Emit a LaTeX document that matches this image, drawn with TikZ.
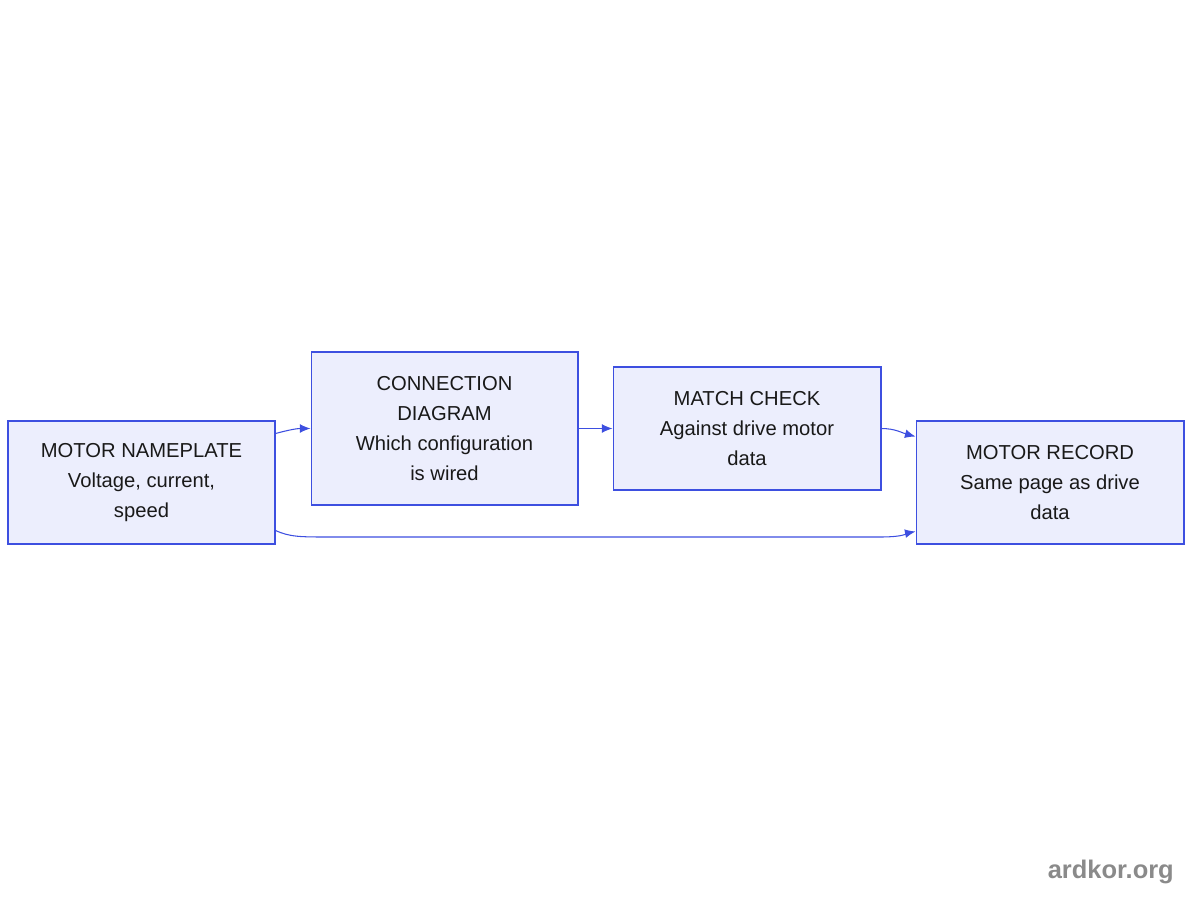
\documentclass[tikz,border=0pt]{standalone}
\usepackage{fontspec}
\setmainfont{Liberation Sans}
\usetikzlibrary{arrows.meta,positioning}
\definecolor{boxfill}{HTML}{ECEEFD}
\definecolor{boxline}{HTML}{3D4FE0}
\definecolor{markgray}{HTML}{8A8A8A}

\begin{document}
\begin{tikzpicture}[x=0.02cm,y=-0.02cm,%
    stage/.style={draw=boxline,fill=boxfill,line width=0.6pt,minimum width=5.34cm,%
      align=center,font=\fontsize{11.5}{17}\selectfont,text=black!90},%
    link/.style={draw=boxline,line width=0.6pt,-{Latex[length=6pt,width=5pt]}}%
  ]
  \useasboundingbox (0,0) rectangle (1200,900);%

  %
  % Stages
  %
  \node[stage,minimum height=2.46cm] (nameplate) at (141.5,482.5)
    {MOTOR NAMEPLATE\\Voltage, current,\\speed};%
  \node[stage,minimum height=3.06cm] (diagram) at (444.5,428.5)
    {CONNECTION\\DIAGRAM\\Which configuration\\is wired};%
  \node[stage,minimum height=2.46cm,minimum width=5.36cm] (check) at (747,428.5)
    {MATCH CHECK\\Against drive motor\\data};%
  \node[stage,minimum height=2.46cm,minimum width=5.36cm] (record) at (1050,482.5)
    {MOTOR RECORD\\Same page as drive\\data};%

  %
  % Links
  %
  \coordinate (nameplate top) at ([yshift=0.98cm]nameplate.east);%
  \coordinate (nameplate low) at ([yshift=-0.96cm]nameplate.east);%
  \coordinate (record top) at ([yshift=0.92cm]record.west);%
  \coordinate (record low) at ([yshift=-0.98cm]record.west);%
  \draw[link] (nameplate top) to[out=15,in=180] (diagram.west);%
  \draw[link] (diagram.east) -- (check.west);%
  \draw[link] (check.east) to[out=0,in=165] (record top);%
  \draw[link] (nameplate low) .. controls (290,537) and (300,537) .. (330,537)
    -- (880,537) .. controls (905,537) and (908,533) .. (record low);%

  % Mark
  \node[anchor=east,text=markgray,font=\bfseries\fontsize{14.5}{17}\selectfont]
    (mark) at (1180,872) {ardkor.org};%
\end{tikzpicture}
\end{document}
